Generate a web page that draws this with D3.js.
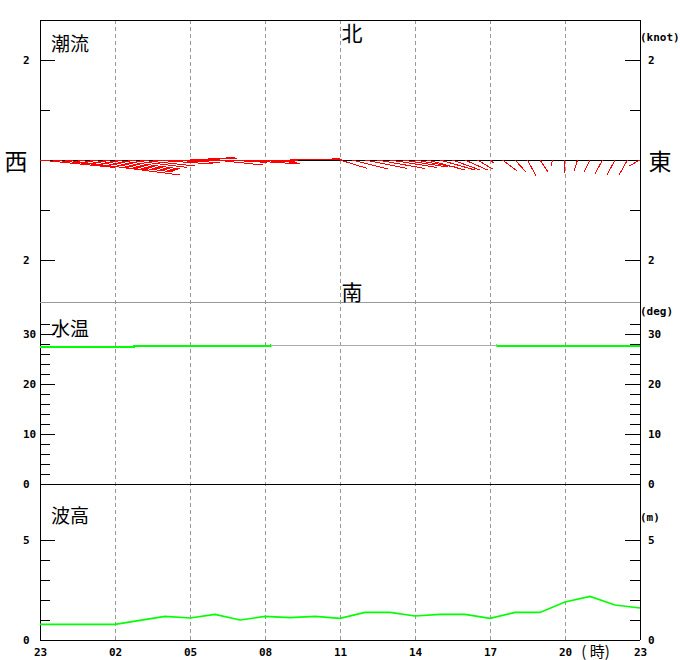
<!DOCTYPE html>
<html>
<head>
<meta charset="utf-8">
<script src="https://cdn.jsdelivr.net/npm/d3@7"></script>
<style>
body { margin: 0; background: #fff; }
svg text { font-family: "DejaVu Sans Mono", monospace; }
.tk text, .tk { font-size: 11px; font-weight: bold; fill: #000; }
.jp { font-family: "Noto Sans CJK JP", sans-serif; fill: #000; }
</style>
</head>
<body>
<svg width="680" height="660"></svg>
<script>
// hours counted from 23:00 of the previous day
var hourTicks = [0, 3, 6, 9, 12, 15, 18, 21, 24];
var hourLabels = ["23", "02", "05", "08", "11", "14", "17", "20", "23"];

// tidal current every 30 min, knots (east +, north +)
var curEast = [1.5, 1.9, 2.3, 1.9, 1.7, 1.5, 1.3, 1.2, 1.1, 1.2, 1.1, 1.0,
               0.9, 0.7, 0.95, 0.8, 1.2, 0.9, 0.6, 0.4, 0.5, 0.6, 0.5, 0.3,
               0.55, 0.7, 0.85, 0.95, 0.95, 0.9, 0.85, 0.75, 0.7, 0.55, 0.45, 0.3,
               0.08, 0.29, 0.22, 0.17, 0.16, -0.03, -0.02, -0.07, -0.12, -0.15, -0.16, -0.17, -0.22];
var curNorth = [-0.15, -0.2, -0.3, -0.24, -0.22, -0.2, -0.18, -0.15, -0.12, -0.08, -0.05, -0.02,
                0.05, 0.04, -0.1, -0.05, -0.08, -0.05, -0.03, 0, 0.01, 0.02, 0.03, 0.02,
                -0.17, -0.18, -0.17, -0.17, -0.15, -0.14, -0.15, -0.2, -0.2, -0.2, -0.2, -0.18,
                -0.06, -0.22, -0.24, -0.32, -0.24, -0.12, -0.26, -0.22, -0.24, -0.28, -0.3, -0.3, -0.12];

// water temperature every 30 min, deg
var tempVals = [27.35, 27.35, 27.35, 27.35, 27.35, 27.35, 27.35, 27.35,
                27.55, 27.55, 27.55, 27.55, 27.55, 27.55, 27.55, 27.55, 27.55, 27.55, 27.55,
                27.75, 27.75, 27.75, 27.75, 27.75, 27.75, 27.75, 27.75, 27.75, 27.75,
                27.75, 27.75, 27.75, 27.75, 27.75, 27.75, 27.75, 27.75,
                27.55, 27.55, 27.55, 27.55, 27.55, 27.55, 27.55, 27.55, 27.55, 27.55, 27.55, 27.55];
// 1 = measured, 0 = drawn grey in the source chart
var tempFlag = tempVals.map((d, i) => (i >= 19 && i <= 36) ? 0 : 1);

// wave height every hour, m
var waveVals = [0.78, 0.78, 0.78, 0.78, 0.98, 1.18, 1.1, 1.28, 1.0, 1.18, 1.12, 1.18, 1.08,
                1.38, 1.38, 1.2, 1.28, 1.28, 1.08, 1.38, 1.38, 1.9, 2.18, 1.75, 1.6];

var svg = d3.select("svg");
var L = 40, R = 640;

var x = d3.scaleLinear().domain([0, 24]).range([L, R]);
var yCur = d3.scaleLinear().domain([-2, 2]).range([260, 60]);
var kt = yCur(0) - yCur(1);  // px per knot
var yTemp = d3.scaleLinear().domain([0, 30]).range([484, 334]);
var yWave = d3.scaleLinear().domain([0, 5]).range([640, 540]);

// vertical dashed grid
svg.append("g").selectAll("line")
  .data(hourTicks.slice(1, -1))
  .enter().append("line")
  .attr("x1", d => x(d)).attr("x2", d => x(d))
  .attr("y1", 20).attr("y2", 640)
  .attr("stroke", "#999").attr("stroke-dasharray", "4,3")
  .attr("shape-rendering", "crispEdges");

// frame
var frame = svg.append("g").attr("stroke", "#000").attr("shape-rendering", "crispEdges");
frame.append("line").attr("x1", L).attr("x2", R).attr("y1", 20).attr("y2", 20);
frame.append("line").attr("x1", L).attr("x2", L).attr("y1", 20).attr("y2", 640);
frame.append("line").attr("x1", R).attr("x2", R).attr("y1", 20).attr("y2", 640);
frame.append("line").attr("x1", L).attr("x2", R).attr("y1", yCur(0)).attr("y2", yCur(0));
frame.append("line").attr("x1", L).attr("x2", R).attr("y1", yTemp(0)).attr("y2", yTemp(0));
frame.append("line").attr("x1", L).attr("x2", R).attr("y1", yWave(0)).attr("y2", yWave(0));
svg.append("line").attr("x1", L).attr("x2", R).attr("y1", 302).attr("y2", 302)
  .attr("stroke", "#999").attr("shape-rendering", "crispEdges");

function yAxes(scale, major, minor, fmt) {
  var sides = [[d3.axisLeft, L, -17], [d3.axisRight, R, 8]];
  sides.forEach(function (s) {
    var gm = svg.append("g").attr("class", "tk").attr("transform", "translate(" + s[1] + ",0)")
      .call(s[0](scale).tickValues(minor).tickSizeInner(-10).tickSizeOuter(0).tickFormat(""));
    gm.select(".domain").remove();
    var gM = svg.append("g").attr("class", "tk").attr("transform", "translate(" + s[1] + ",0)")
      .call(s[0](scale).tickValues(major).tickSizeInner(-15).tickSizeOuter(0).tickFormat(fmt));
    gM.select(".domain").remove();
    gM.selectAll("text").attr("x", s[2]).attr("text-anchor", "start").attr("font-family", "DejaVu Sans Mono");
    svg.selectAll(".tk line").attr("shape-rendering", "crispEdges");
  });
}
yAxes(yCur, [-2, 2], [-1, 1], d => Math.abs(d));
yAxes(yTemp, [0, 10, 20, 30], d3.range(2, 33, 2).filter(d => d % 10), d => d);
yAxes(yWave, [0, 5], [1, 2, 3, 4], d => d);

// x axis labels
var gx = svg.append("g").attr("class", "tk").attr("transform", "translate(0," + yWave(0) + ")")
  .call(d3.axisBottom(x).tickValues(hourTicks).tickSize(0).tickPadding(8)
    .tickFormat((d, i) => hourLabels[i]));
gx.select(".domain").remove();
gx.selectAll("text").attr("font-family", "DejaVu Sans Mono");
svg.append("text").attr("class", "jp").attr("x", x(21.65)).attr("y", 657)
  .attr("font-size", 15).text("( 時)");

// units
svg.append("text").attr("class", "tk").attr("x", 640).attr("y", 41).text("(knot)");
svg.append("text").attr("class", "tk").attr("x", 640).attr("y", 315).text("(deg)");
svg.append("text").attr("class", "tk").attr("x", 640).attr("y", 521).text("(m)");

// panel titles and compass
function jp(t, px, py, size, anchor) {
  svg.append("text").attr("class", "jp").attr("x", px).attr("y", py)
    .attr("font-size", size).attr("text-anchor", anchor || "start")
    .attr("dominant-baseline", "central").text(t);
}
jp("潮流", 51, 42, 19);
jp("水温", 51, 327, 19);
jp("波高", 51, 514, 19);
jp("北", 352, 32, 21, "middle");
jp("南", 352, 291, 21, "middle");
jp("西", 16, 160, 23, "middle");
jp("東", 660, 160, 23, "middle");

// current vectors
var half = d3.range(curEast.length).map(i => i / 2);
svg.append("g").selectAll("line")
  .data(half)
  .enter().append("line")
  .attr("x1", d => x(d)).attr("y1", yCur(0))
  .attr("x2", (d, i) => x(d) + curEast[i] * kt)
  .attr("y2", (d, i) => yCur(curNorth[i]))
  .attr("stroke", "#ff0000").attr("stroke-width", 1)
  .attr("shape-rendering", "crispEdges");

// water temperature: green where measured, grey elsewhere
var i0 = tempFlag.indexOf(0), i1 = tempFlag.lastIndexOf(0);
var gx0 = x((i0 - 0.5) / 2), gx1 = x((i1 + 0.5) / 2);
var defs = svg.append("defs");
defs.append("clipPath").attr("id", "tmid")
  .append("rect").attr("x", gx0).attr("y", 302).attr("width", gx1 - gx0).attr("height", 182);
var cOut = defs.append("clipPath").attr("id", "tout");
cOut.append("rect").attr("x", L).attr("y", 302).attr("width", gx0 - L).attr("height", 182);
cOut.append("rect").attr("x", gx1).attr("y", 302).attr("width", R - gx1).attr("height", 182);

var tempLine = d3.line().curve(d3.curveStep).x((d, i) => x(i / 2)).y(d => yTemp(d));
svg.append("path")
  .datum(tempVals)
  .attr("clip-path", "url(#tout)")
  .attr("fill", "none").attr("stroke", "#00ff00").attr("stroke-width", 1.6)
  .attr("shape-rendering", "crispEdges")
  .attr("d", tempLine);
svg.append("path")
  .datum(tempVals)
  .attr("clip-path", "url(#tmid)")
  .attr("fill", "none").attr("stroke", "#aaa").attr("stroke-width", 1)
  .attr("shape-rendering", "crispEdges")
  .attr("d", tempLine);

// wave height
svg.append("path")
  .datum(waveVals)
  .attr("fill", "none").attr("stroke", "#00ff00").attr("stroke-width", 1.6)
  .attr("d", d3.line().x((d, i) => x(i)).y(d => yWave(d)));
</script>
</body>
</html>
